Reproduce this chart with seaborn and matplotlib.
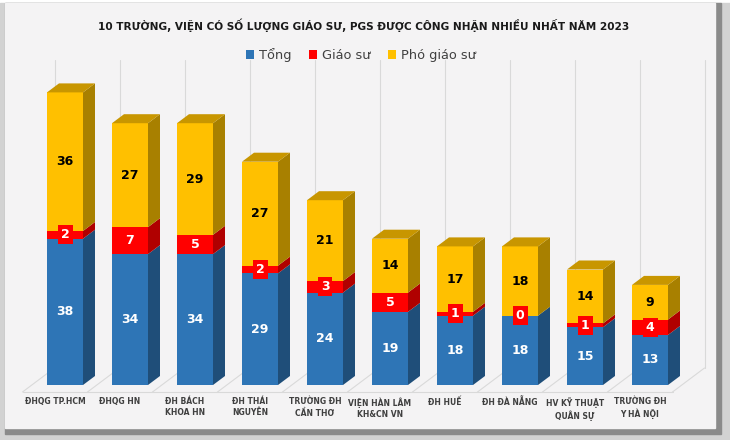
import numpy as np
import pandas as pd
import matplotlib
matplotlib.use('Agg')
import matplotlib.pyplot as plt
from matplotlib.patches import Polygon, Rectangle, Patch
import seaborn as sns

sns.set_style("white")
plt.rcParams['font.family'] = ['DejaVu Sans']

# data
categories = ['ĐHQG TP.HCM', 'ĐHQG HN', 'ĐH BÁCH\nKHOA HN', 'ĐH THÁI\nNGUYÊN', 'TRƯỜNG ĐH\nCẦN THƠ',
              'VIỆN HÀN LÂM\nKH&CN VN', 'ĐH HUẾ', 'ĐH ĐÀ NẴNG', 'HV KỸ THUẬT\nQUÂN SỰ', 'TRƯỜNG ĐH\nY HÀ NỘI']
tong = [38, 34, 34, 29, 24, 19, 18, 18, 15, 13]
giao_su = [2, 7, 5, 2, 3, 5, 1, 0, 1, 4]
pho_giao_su = [36, 27, 29, 27, 21, 14, 17, 18, 14, 9]
series_names = ['Tổng', 'Giáo sư', 'Phó giáo sư']

BLUE, BLUE_S = '#2e75b6', '#1f4e79'
RED, RED_S = '#ff0000', '#b00000'
YEL, YEL_S, YEL_T = '#ffc000', '#a88000', '#c89600'
BG = '#f4f3f4'
GRID = '#d9d9d9'

df = pd.DataFrame({'truong': categories, 'tong': tong, 'gs': giao_su, 'pgs': pho_giao_su})
df['c1'] = df['tong']
df['c2'] = df['tong'] + df['gs']
df['c3'] = df['c2'] + df['pgs']

W, H = 730, 440
fig = plt.figure(figsize=(W / 100, H / 100), dpi=100)
fig.patch.set_facecolor('white')

# picture frame
fig.patches.append(Rectangle((0, 0), 1, 1 - 3 / H, transform=fig.transFigure, color='#d2d2d2', zorder=-3))
fig.patches.append(Rectangle((5 / W, 6 / H), 716 / W, 1 - 9 / H, transform=fig.transFigure, color='#8a8a8a', zorder=-2))
fig.patches.append(Rectangle((5 / W, 12 / H), 710 / W, 1 - 15 / H, transform=fig.transFigure, color=BG, zorder=-1))

floor_px = 385
ppx, ppy = 65.0, 3.85
ax = fig.add_axes([32.5 / W, (H - floor_px) / H, 650 / W, 80 * ppy / H])
ax.set_facecolor('none')

bw = 36 / ppx
for col, c in [('c3', YEL), ('c2', RED), ('c1', BLUE)]:
    sns.barplot(data=df, x='truong', y=col, color=c, saturation=1, width=bw,
                edgecolor='none', linewidth=0, ax=ax, zorder=3)

ax.set_xlim(-0.5, 9.5)
ax.set_ylim(0, 80)
ax.axis('off')

dx, dy = 12 / ppx, 9 / ppy

# back wall and floor
fx, fy = -10 / ppx, -7 / ppy
bx, by = 22 / ppx, 17 / ppy
top_y = (floor_px - 60) / ppy
for k in range(11):
    b = k - 0.5
    ax.plot([b + fx, b + bx], [fy, by], color=GRID, lw=0.8, clip_on=False, zorder=1)
    ax.plot([b + bx, b + bx], [by, top_y], color=GRID, lw=0.8, clip_on=False, zorder=1)
ax.plot([-0.5 + fx, 9.5 + fx], [fy, fy], color=GRID, lw=0.8, clip_on=False, zorder=1)

# 3d side and top faces
for i in range(len(categories)):
    xl, xr = i - bw / 2, i + bw / 2
    segs = [(0, df.c1[i], BLUE_S), (df.c1[i], df.c2[i], RED_S), (df.c2[i], df.c3[i], YEL_S)]
    for y0, y1, sc in segs:
        if y1 <= y0:
            continue
        ax.add_patch(Polygon([(xr, y0), (xr + dx, y0 + dy), (xr + dx, y1 + dy), (xr, y1)],
                             closed=True, facecolor=sc, edgecolor='none', zorder=3, clip_on=False))
    t = df.c3[i]
    ax.add_patch(Polygon([(xl, t), (xl + dx, t + dy), (xr + dx, t + dy), (xr, t)],
                         closed=True, facecolor=YEL_T, edgecolor='none', zorder=3, clip_on=False))

    ax.text(i, df.c1[i] / 2, str(tong[i]), ha='center', va='center', color='white',
            fontsize=9, fontweight='bold', zorder=5)
    ax.text(i, (df.c2[i] + df.c3[i]) / 2, str(pho_giao_su[i]), ha='center', va='center',
            color='black', fontsize=9, fontweight='bold', zorder=5)
    ax.text(i, (df.c1[i] + df.c2[i]) / 2, str(giao_su[i]), ha='center', va='center', color='white',
            fontsize=9, fontweight='bold', zorder=6,
            bbox=dict(boxstyle='square,pad=0.25', facecolor=RED, edgecolor='none'))

    ax.text(i + fx, (floor_px - 397) / ppy, categories[i], ha='center', va='top', color='#404040',
            fontsize=5.5, fontweight='bold', linespacing=1.35, clip_on=False)

fig.text(364 / W, 1 - 25 / H,
         '10 TRƯỜNG, VIỆN CÓ SỐ LƯỢNG GIÁO SƯ, PGS ĐƯỢC CÔNG NHẬN NHIỀU NHẤT NĂM 2023',
         ha='center', va='center', fontsize=7.6, fontweight='bold', color='#1a1a1a')

handles = [Patch(facecolor=c, edgecolor='none') for c in (BLUE, RED, YEL)]
leg = fig.legend(handles, series_names, ncol=3, loc='center', bbox_to_anchor=(361 / W, 1 - 55 / H),
                 frameon=False, fontsize=9.3, handlelength=0.65, handleheight=0.65,
                 handletextpad=0.4, columnspacing=1.3)
for t in leg.get_texts():
    t.set_color('#404040')

fig.savefig('out.png', dpi=100, facecolor=fig.get_facecolor())
